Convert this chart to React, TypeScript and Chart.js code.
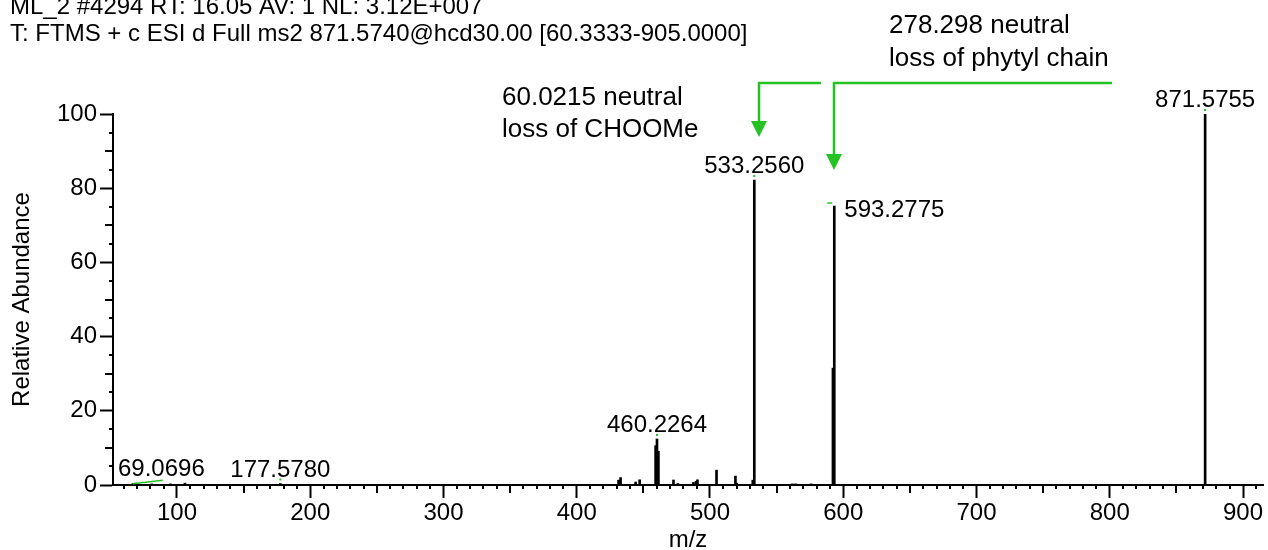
import React, { useEffect, useRef } from "react";
import { Chart, registerables } from "chart.js";

Chart.register(...registerables);

// ---------- data ----------
const headerLines = [
  "ML_2 #4294 RT: 16.05 AV: 1 NL: 3.12E+007",
  "T: FTMS + c ESI d Full ms2 871.5740@hcd30.00 [60.3333-905.0000]",
];

const peakMz = [
  67.0, 69.0696, 81.07, 95.09, 106.0, 121.1, 177.578,
  431.4, 432.9, 444.2, 447.2, 459.2, 460.2264, 461.3, 472.6, 475.9,
  487.6, 489.6, 490.6, 504.9, 519.1, 520.1, 532.1, 533.256,
  561.9, 564.2, 575.9, 592.27, 593.2775, 871.5755,
];
const peakIntensity = [
  0.4, 0.5, 0.3, 0.3, 0.5, 0.2, 0.4,
  1.3, 2.0, 0.8, 1.4, 10.6, 12.4, 9.1, 1.35, 0.4,
  0.7, 1.0, 1.4, 4.0, 2.4, 0.5, 1.3, 82.2,
  0.3, 0.3, 0.3, 31.5, 75.2, 100,
];

const labelMz = [69.0696, 177.578, 460.2264, 533.256, 593.2775, 871.5755];
const labelIntensity = [0.5, 0.4, 12.4, 82.2, 75.2, 100];
const labelText = ["69.0696", "177.5780", "460.2264", "533.2560", "593.2775", "871.5755"];

const xTickValues = [100, 200, 300, 400, 500, 600, 700, 800, 900];
const yTickValues = [0, 20, 40, 60, 80, 100];

const noteLossCHOOMe = ["60.0215 neutral", "loss of CHOOMe"];
const notePhytyl = ["278.298 neutral", "loss of phytyl chain"];
const arrowTargetMz = [533.256, 593.2775];

const xTitle = "m/z";
const yTitle = "Relative Abundance";

// ---------- style ----------
const FONT = "'Liberation Sans', Arial, Helvetica, sans-serif";
const GREEN = "#22c322";

const overlayPlugin = {
  id: "overlay",
  afterDraw(chart: any) {
    const { ctx, chartArea, scales } = chart;
    const x = scales.x;
    const y = scales.y;
    ctx.save();

    // minor ticks
    ctx.strokeStyle = "#000";
    ctx.lineWidth = 2;
    ctx.beginPath();
    for (let v = 60; v <= 910; v += 10) {
      if (v % 100 === 0) continue;
      const len = v % 50 === 0 ? 8 : 4;
      const px = Math.round(x.getPixelForValue(v));
      ctx.moveTo(px, chartArea.bottom);
      ctx.lineTo(px, chartArea.bottom + len);
    }
    for (let v = 5; v < 100; v += 5) {
      if (v % 20 === 0) continue;
      const len = v % 10 === 0 ? 8 : 4;
      const py = Math.round(y.getPixelForValue(v));
      ctx.moveTo(chartArea.left, py);
      ctx.lineTo(chartArea.left - len, py);
    }
    ctx.stroke();

    // header
    ctx.fillStyle = "#000";
    ctx.font = `24px ${FONT}`;
    ctx.textAlign = "left";
    ctx.textBaseline = "alphabetic";
    headerLines.forEach((t, i) => ctx.fillText(t, 10, 14 + i * 27));

    // peak labels
    labelMz.forEach((mz, i) => {
      const px = x.getPixelForValue(mz);
      const py = y.getPixelForValue(labelIntensity[i]);
      const text = labelText[i];
      ctx.font = `24px ${FONT}`;
      ctx.fillStyle = "#000";
      if (text === "593.2775") {
        ctx.textAlign = "left";
        ctx.fillText(text, px + 10, py + 11);
        ctx.strokeStyle = GREEN;
        ctx.lineWidth = 1.5;
        ctx.beginPath();
        ctx.moveTo(px - 7, py - 3);
        ctx.lineTo(px - 2, py - 3);
        ctx.stroke();
      } else {
        const w = ctx.measureText(text).width;
        let cx = px;
        if (cx - w / 2 < chartArea.left + 5) cx = chartArea.left + 5 + w / 2;
        ctx.textAlign = "center";
        ctx.fillText(text, cx, py - 7);
        ctx.fillStyle = GREEN;
        if (text === "69.0696") {
          ctx.strokeStyle = GREEN;
          ctx.lineWidth = 1.5;
          ctx.beginPath();
          ctx.moveTo(px - 3, py + 0.5);
          ctx.lineTo(px + 27, py - 3);
          ctx.stroke();
        } else {
          ctx.fillRect(px - 1, py - 5, 2, 2);
        }
      }
    });

    // annotations
    ctx.fillStyle = "#000";
    ctx.font = `26px ${FONT}`;
    ctx.textAlign = "left";
    noteLossCHOOMe.forEach((t, i) => ctx.fillText(t, 502, 105 + i * 32));
    notePhytyl.forEach((t, i) => ctx.fillText(t, 889, 33 + i * 33));

    // arrows
    const arrows = [
      { dx: 5, yTop: 83, yTip: 137, hLen: 62 },
      { dx: 0, yTop: 83, yTip: 170, hLen: 278 },
    ];
    arrowTargetMz.forEach((mz, i) => {
      const a = arrows[i];
      const ax = Math.round(x.getPixelForValue(mz)) + a.dx;
      ctx.strokeStyle = GREEN;
      ctx.fillStyle = GREEN;
      ctx.lineWidth = 2.5;
      ctx.beginPath();
      ctx.moveTo(ax + a.hLen, a.yTop);
      ctx.lineTo(ax, a.yTop);
      ctx.lineTo(ax, a.yTip - 14);
      ctx.stroke();
      ctx.beginPath();
      ctx.moveTo(ax - 8, a.yTip - 16);
      ctx.lineTo(ax + 8, a.yTip - 16);
      ctx.lineTo(ax, a.yTip);
      ctx.closePath();
      ctx.fill();
    });

    ctx.restore();
  },
};

export default function App() {
  const canvasRef = useRef<HTMLCanvasElement | null>(null);

  useEffect(() => {
    if (!canvasRef.current) return;
    Chart.defaults.font.family = FONT;
    Chart.defaults.color = "#000";
    const chart = new Chart(canvasRef.current, {
      type: "bar",
      data: {
        datasets: [
          {
            data: peakMz.map((mz, i) => ({ x: mz, y: peakIntensity[i] })),
            backgroundColor: "#000",
            borderWidth: 0,
            barThickness: 2,
            grouped: false,
          } as any,
        ],
      },
      options: {
        animation: false,
        responsive: false,
        devicePixelRatio: 1,
        layout: { padding: { top: 114, right: 5, bottom: 0, left: 0 } },
        plugins: {
          legend: { display: false },
          tooltip: { enabled: false },
          title: { display: false },
        },
        scales: {
          x: {
            type: "linear",
            min: 52,
            max: 915,
            offset: false,
            afterBuildTicks: (scale: any) => {
              scale.ticks = xTickValues.map((v) => ({ value: v }));
            },
            afterFit: (scale: any) => {
              scale.height = 65;
            },
            ticks: {
              font: { size: 24 },
              color: "#000",
              padding: 1,
              maxRotation: 0,
              autoSkip: false,
            },
            grid: {
              display: true,
              offset: false,
              drawOnChartArea: false,
              drawTicks: true,
              tickLength: 13,
              tickColor: "#000",
              tickWidth: 2,
            },
            border: { display: true, color: "#000", width: 2 },
            title: {
              display: true,
              text: xTitle,
              font: { size: 24, lineHeight: 1 },
              color: "#000",
              padding: { top: 0, bottom: -2 },
            },
          },
          y: {
            type: "linear",
            min: 0,
            max: 100,
            afterBuildTicks: (scale: any) => {
              scale.ticks = yTickValues.map((v) => ({ value: v }));
            },
            afterFit: (scale: any) => {
              scale.width = 113;
            },
            ticks: {
              font: { size: 24 },
              color: "#000",
              padding: 3,
            },
            grid: {
              display: true,
              drawOnChartArea: false,
              drawTicks: true,
              tickLength: 13,
              tickColor: "#000",
              tickWidth: 2,
            },
            border: { display: true, color: "#000", width: 2 },
            title: {
              display: true,
              text: yTitle,
              font: { size: 24, lineHeight: 1 },
              color: "#000",
              padding: { top: 10, bottom: 0 },
            },
          },
        },
      },
      plugins: [overlayPlugin],
    });
    return () => chart.destroy();
  }, []);

  return (
    <div style={{ position: "fixed", left: 0, top: 0, width: 1268, height: 550, background: "#fff" }}>
      <canvas ref={canvasRef} width={1268} height={550} style={{ display: "block" }} />
    </div>
  );
}
